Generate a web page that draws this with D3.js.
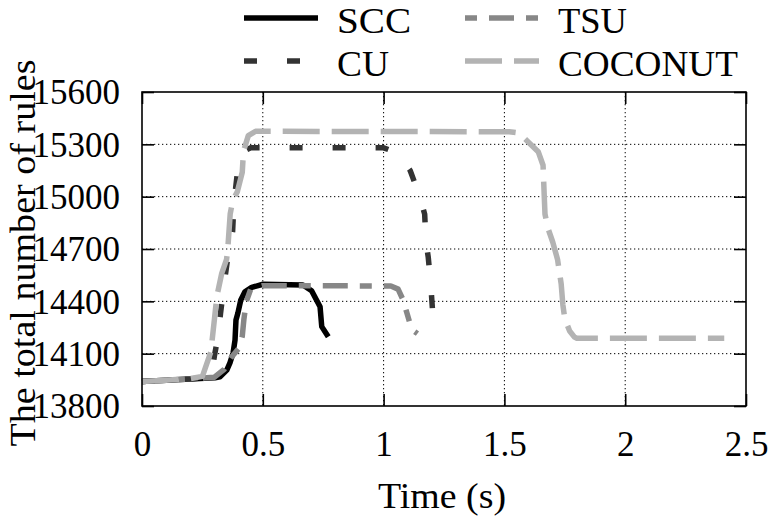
<!DOCTYPE html>
<html>
<head>
<meta charset="utf-8">
<script src="https://cdn.jsdelivr.net/npm/d3@7"></script>
</head>
<body style="margin:0">
<svg id="fig" width="770" height="517"></svg>
<script>
// ---- data (time in s, total number of rules) ----
const xTicks = [0, 0.5, 1, 1.5, 2, 2.5];
const yTicks = [13800, 14100, 14400, 14700, 15000, 15300, 15600];

const seriesNames = ["SCC", "TSU", "CU", "COCONUT"];

const sccData = [
  [0, 13940], [0.1, 13948], [0.2, 13955], [0.28, 13960], [0.302, 13962],
  [0.323, 13968], [0.351, 14006], [0.364, 14047], [0.377, 14104], [0.385, 14178],
  [0.389, 14293], [0.397, 14333], [0.409, 14408], [0.426, 14455], [0.454, 14480],
  [0.501, 14498], [0.666, 14494], [0.702, 14461], [0.737, 14369], [0.744, 14255],
  [0.771, 14197]
];

const tsuData = [
  [0, 13940], [0.1, 13948], [0.2, 13955], [0.3, 13965], [0.34, 14010],
  [0.37, 14080], [0.40, 14130], [0.415, 14200], [0.422, 14300], [0.432, 14400],
  [0.45, 14470], [0.5, 14490], [1.03, 14488], [1.06, 14470], [1.08, 14410],
  [1.095, 14340], [1.11, 14270], [1.125, 14230], [1.14, 14215]
];

const cuData = [
  [0, 13940], [0.1, 13948], [0.2, 13955], [0.28, 13965], [0.29, 14000],
  [0.30, 14090], [0.315, 14200], [0.325, 14330], [0.34, 14500], [0.355, 14650],
  [0.375, 14800], [0.38, 14950], [0.39, 15080], [0.40, 15200], [0.42, 15260],
  [0.45, 15280], [1.0, 15280], [1.06, 15250], [1.085, 15200], [1.11, 15150],
  [1.15, 15000], [1.17, 14900], [1.175, 14750], [1.185, 14650], [1.195, 14500],
  [1.2, 14400], [1.205, 14300], [1.21, 14200]
];

const coconutData = [
  [0, 13940], [0.1, 13948], [0.2, 13957], [0.25, 13970], [0.265, 14030],
  [0.285, 14110], [0.3, 14300], [0.31, 14430], [0.33, 14560], [0.35, 14640],
  [0.355, 14700], [0.365, 14900], [0.375, 14975], [0.395, 15030], [0.415, 15140],
  [0.42, 15260], [0.44, 15350], [0.47, 15375], [1.52, 15372], [1.56, 15365],
  [1.59, 15325], [1.64, 15258], [1.66, 15180], [1.665, 15000], [1.668, 14900],
  [1.68, 14820], [1.7, 14740], [1.72, 14640], [1.735, 14500], [1.742, 14380],
  [1.75, 14300], [1.77, 14230], [1.79, 14195], [1.8, 14188], [2.41, 14188]
];

const seriesData = [sccData, tsuData, cuData, coconutData];
const seriesColors = ["#000000", "#878787", "#333333", "#b3b3b3"];
const seriesDash = [null, "25,12,12,12", "13,30", "37,12"];
const legendDashOffset = [0, 37, 0, 0];
const legendTextWidth = [74, 69, 52, 180];

const FONT = '"Liberation Serif"';
function serif(sel, size) {
  sel.attr("font-family", "Liberation Serif").attr("font-size", size)
     .style("font-family", FONT, "important")
     .style("font-size", size + "px", "important");
  return sel;
}

// ---- layout ----
const svg = d3.select("#fig");
const plot = { left: 142, right: 746, top: 92, bottom: 406 };

const x = d3.scaleLinear().domain([0, 2.5]).range([plot.left, plot.right]);
const y = d3.scaleLinear().domain([13800, 15600]).range([plot.bottom, plot.top]);

// grid
const grid = svg.append("g");
grid.selectAll("line.vg").data(xTicks.slice(1, -1)).enter().append("line")
  .attr("x1", d => x(d)).attr("x2", d => x(d))
  .attr("y1", plot.top).attr("y2", plot.bottom)
  .attr("stroke", "#000").attr("stroke-width", 1).attr("stroke-dasharray", "1.3,2.7");
grid.selectAll("line.hg").data(yTicks.slice(1, -1)).enter().append("line")
  .attr("y1", d => y(d)).attr("y2", d => y(d))
  .attr("x1", plot.left).attr("x2", plot.right)
  .attr("stroke", "#000").attr("stroke-width", 1).attr("stroke-dasharray", "1.3,2.7");

// series
const line = d3.line().x(d => x(d[0])).y(d => y(d[1])).curve(d3.curveLinear);
const lineG = svg.append("g");
seriesData.forEach((data, i) => {
  const p = lineG.append("path")
    .attr("d", line(data))
    .attr("fill", "none")
    .attr("stroke", seriesColors[i])
    .attr("stroke-width", 5.5)
    .attr("stroke-linejoin", "round")
    .attr("stroke-linecap", "butt");
  if (seriesDash[i]) p.attr("stroke-dasharray", seriesDash[i]);
});

// axes (ticks inside, on all four sides)
const tickLen = 12;
const axB = svg.append("g").attr("transform", `translate(0,${plot.bottom})`)
  .call(d3.axisBottom(x).tickValues(xTicks).tickSize(-tickLen).tickPadding(22)
    .tickFormat(d => d3.format("")(d)));
const axT = svg.append("g").attr("transform", `translate(0,${plot.top})`)
  .call(d3.axisTop(x).tickValues(xTicks).tickSize(-tickLen).tickFormat(""));
const axL = svg.append("g").attr("transform", `translate(${plot.left},0)`)
  .call(d3.axisLeft(y).tickValues(yTicks).tickSize(-tickLen).tickPadding(22)
    .tickFormat(d3.format("d")));
const axR = svg.append("g").attr("transform", `translate(${plot.right},0)`)
  .call(d3.axisRight(y).tickValues(yTicks).tickSize(-tickLen).tickFormat(""));

[axB, axT, axL, axR].forEach(a => {
  serif(a, 35);
  a.select(".domain").remove();
  a.selectAll(".tick line").attr("stroke", "#000").attr("stroke-width", 1.6);
  serif(a.selectAll("text"), 35).attr("fill", "#000");
});
axB.selectAll(".tick text").attr("dy", null).attr("y", 50);
axL.selectAll(".tick text").attr("dy", "0.34em").attr("x", -22);

// frame
svg.append("rect")
  .attr("x", plot.left).attr("y", plot.top)
  .attr("width", plot.right - plot.left).attr("height", plot.bottom - plot.top)
  .attr("fill", "none").attr("stroke", "#000").attr("stroke-width", 1.6);

// axis titles
serif(svg.append("text"), 36)
  .attr("x", 442).attr("y", 508)
  .attr("text-anchor", "middle")
  .attr("textLength", 128).attr("lengthAdjust", "spacingAndGlyphs")
  .text("Time (s)");
serif(svg.append("text"), 36)
  .attr("transform", `translate(35,253) rotate(-90)`)
  .attr("text-anchor", "middle")
  .attr("textLength", 387).attr("lengthAdjust", "spacingAndGlyphs")
  .text("The total number of rules");

// legend (2 columns, filled row-wise)
const legendPos = [
  { x: 244, y: 18 }, { x: 465, y: 18 },
  { x: 244, y: 61 }, { x: 465, y: 61 }
];
const leg = svg.append("g");
seriesNames.forEach((name, i) => {
  const p = legendPos[i];
  const l = leg.append("line")
    .attr("x1", p.x).attr("x2", p.x + 74)
    .attr("y1", p.y).attr("y2", p.y)
    .attr("stroke", seriesColors[i]).attr("stroke-width", 5.5);
  if (seriesDash[i]) l.attr("stroke-dasharray", seriesDash[i]).attr("stroke-dashoffset", legendDashOffset[i]);
  serif(leg.append("text"), 36)
    .attr("x", p.x + 93).attr("y", p.y + 15)
    .attr("textLength", legendTextWidth[i]).attr("lengthAdjust", "spacingAndGlyphs")
    .text(name);
});
</script>
</body>
</html>
